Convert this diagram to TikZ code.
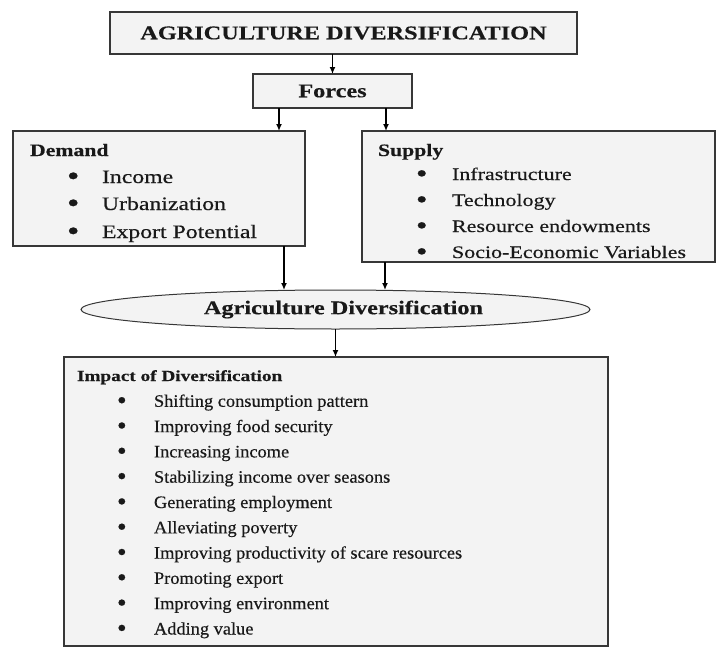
\documentclass[tikz,border=0pt]{standalone}
\usepackage{fontspec}
\setmainfont{Liberation Serif}
\newfontfamily\widefont{Liberation Serif}[FakeStretch=1.25,FakeBold=0.4]
\newfontfamily\impfont{Liberation Serif}[FakeStretch=1.05,FakeBold=0.4]
\usetikzlibrary{shapes.geometric,arrows.meta}
\definecolor{boxgray}{RGB}{243,243,243}
\definecolor{edgegray}{RGB}{55,55,55}
\newcommand\bitem[2][35pt]{\makebox[#1][l]{\raisebox{-0.12em}{\scalebox{1.5}{\textbullet}}}#2}

\begin{document}
\begin{tikzpicture}
[x=1pt,y=-1pt,
 every node/.style={inner sep=0pt,outer sep=0pt,text=black!90},
 box/.style={rectangle,draw=edgegray,line width=1.3pt,fill=boxgray},
 oval/.style={ellipse,draw=edgegray,line width=1pt,fill=boxgray},
 ttl/.style={font=\widefont\bfseries\fontsize{19.4}{23}\selectfont},
 head/.style={anchor=base west,font=\widefont\bfseries\fontsize{17.4}{20}\selectfont},
 item/.style={anchor=base west,font=\widefont\fontsize{19}{22}\selectfont},
 sitem/.style={anchor=base west,font=\widefont\fontsize{17.6}{20}\selectfont},
 ihead/.style={anchor=base west,font=\widefont\bfseries\fontsize{15.4}{18}\selectfont},
 iitem/.style={anchor=base west,font=\impfont\fontsize{17.5}{20}\selectfont},
 link/.style={-{Latex[length=7pt,width=6pt]},line width=1.3pt,black}]
\useasboundingbox (0,0) rectangle (716,648);

% boxes
\node[box,ttl,minimum width=467pt,minimum height=42pt] (ttl) at (343.5,33)  {AGRICULTURE DIVERSIFICATION};
\node[box,ttl,minimum width=159pt,minimum height=34pt] (frc) at (332.5,91)  {Forces};
\node[box,minimum width=292pt,minimum height=115pt]    (dem) at (159,188.5) {};
\node[box,minimum width=353pt,minimum height=131pt]    (sup) at (538.5,196.5) {};
\node[oval,ttl,minimum width=509pt,minimum height=39pt] (ell) at (335.5,309.5) {\hspace*{16pt}Agriculture Diversification};
\node[box,minimum width=544pt,minimum height=289pt]    (imp) at (336,501.5) {};

% demand
\node[head] (demH) at (30,156)  {Demand};
\node[item] (dem1) at (67,183)  {\bitem{Income}};
\node[item] (dem2) at (67,210)  {\bitem{Urbanization}};
\node[item] (dem3) at (67,238)  {\bitem{Export Potential}};

% supply
\node[head]  (supH) at (378,156) {Supply};
\node[sitem] (sup1) at (416,180) {\bitem[36pt]{Infrastructure}};
\node[sitem] (sup2) at (416,206) {\bitem[36pt]{Technology}};
\node[sitem] (sup3) at (416,232) {\bitem[36pt]{Resource endowments}};
\node[sitem] (sup4) at (416,258) {\bitem[36pt]{Socio-Economic Variables}};

% impact
\node[ihead] (impH)  at (77,381)   {Impact of Diversification};
\node[iitem] (imp1)  at (117,406.8) {\bitem[37pt]{Shifting consumption pattern}};
\node[iitem] (imp2)  at (117,432.1) {\bitem[37pt]{Improving food security}};
\node[iitem] (imp3)  at (117,457.4) {\bitem[37pt]{Increasing income}};
\node[iitem] (imp4)  at (117,482.7) {\bitem[37pt]{Stabilizing income over seasons}};
\node[iitem] (imp5)  at (117,508.0) {\bitem[37pt]{Generating employment}};
\node[iitem] (imp6)  at (117,533.3) {\bitem[37pt]{Alleviating poverty}};
\node[iitem] (imp7)  at (117,558.6) {\bitem[37pt]{Improving productivity of scare resources}};
\node[iitem] (imp8)  at (117,583.9) {\bitem[37pt]{Promoting export}};
\node[iitem] (imp9)  at (117,609.2) {\bitem[37pt]{Improving environment}};
\node[iitem] (imp10) at (117,634.5) {\bitem[37pt]{Adding value}};

% arrows
\draw[link] (frc.north |- ttl.south) -- (frc.north);
\draw[link] ([xshift=26pt]frc.south west) -- ([xshift=26pt]frc.south west |- dem.north);
\draw[link] ([xshift=-26pt]frc.south east) -- ([xshift=-26pt]frc.south east |- sup.north);
\draw[link] ([xshift=-21pt]dem.south east) -- ([xshift=-21pt]dem.south east |- ell.north);
\draw[link] ([xshift=23pt]sup.south west) -- ([xshift=23pt]sup.south west |- ell.north);
\draw[link] (ell.south) -- (ell.south |- imp.north);
\end{tikzpicture}
\end{document}
